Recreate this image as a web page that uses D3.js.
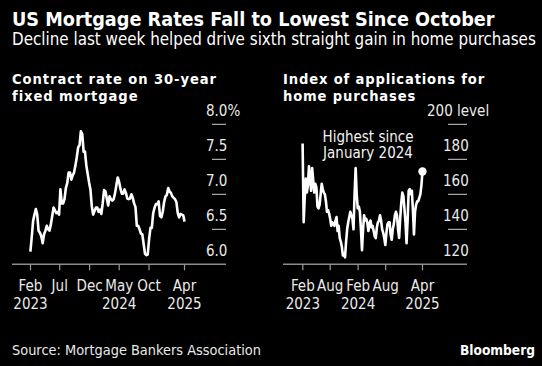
<!DOCTYPE html>
<html>
<head>
<meta charset="utf-8">
<script src="https://cdn.jsdelivr.net/npm/d3@7"></script>
<style>
  html, body { margin: 0; padding: 0; background: #000; }
  svg { display: block; }
  text { font-family: 'DejaVu Sans Condensed', 'DejaVu Sans', sans-serif; font-stretch: condensed; }
</style>
</head>
<body>
<script>
// ---------- DATA ----------
const titleText = "US Mortgage Rates Fall to Lowest Since October";
const subtitleText = "Decline last week helped drive sixth straight gain in home purchases";
const leftTitle = ["Contract rate on 30-year", "fixed mortgage"];
const rightTitle = ["Index of applications for", "home purchases"];
const sourceText = "Source: Mortgage Bankers Association";
const firstWeek = "2023-02-03"; // weekly observations start

// MBA 30-year fixed contract rate, %, weekly
const rateValues = [
  6.18, 6.39, 6.62, 6.71,
  6.79, 6.71, 6.48, 6.45, 6.40,
  6.30, 6.43, 6.48, 6.55,
  6.50, 6.48, 6.57, 6.69,
  6.81, 6.77, 6.73, 6.75, 6.71,
  7.07, 6.87, 6.87, 6.93,
  7.09, 7.16, 7.31, 7.31,
  7.21, 7.27, 7.31, 7.41, 7.53,
  7.67, 7.70, 7.90, 7.86,
  7.61, 7.61, 7.41, 7.29,
  7.17, 7.07, 6.83, 6.71, 6.76,
  6.81, 6.81, 6.75, 6.78,
  6.72, 6.87, 7.06, 7.04,
  6.94, 6.84, 6.97, 6.93, 6.91,
  6.93, 7.01, 7.13, 7.24,
  7.18, 7.08, 7.01, 7.01, 7.07,
  7.02, 6.94, 6.93, 6.94,
  7.00, 6.95, 6.87, 6.82,
  6.55, 6.55, 6.50, 6.44, 6.43,
  6.29, 6.15, 6.13, 6.14,
  6.36, 6.52, 6.52, 6.73,
  6.81, 6.86, 6.86, 6.90, 6.69,
  6.67, 6.75, 6.89, 6.97,
  6.99, 7.09, 7.04, 7.02, 6.97,
  6.95, 6.93, 6.89, 6.73,
  6.67, 6.72, 6.71, 6.70,
  6.61
];

// MBA purchase index, weekly
const purchaseValues = [
  189, 144, 158, 169, 161, 165, 176, 170, 162, 175,
  168, 161, 166, 164, 153, 152, 154, 160, 166, 163,
  161, 160, 156, 150, 151, 149, 146, 142, 144, 143,
  142, 145, 147, 139, 142, 135, 133, 130, 125, 126,
  124, 133, 140, 144, 147, 150, 148, 146, 140, 160,
  175, 160, 152, 153, 150, 140, 128, 140, 148, 145,
  146, 144, 139, 143, 145, 141, 142, 139, 136, 135,
  141, 144, 145, 148, 145, 140, 138, 135, 131, 138,
  143, 144, 144, 137, 134, 140, 143, 148, 150, 148,
  140, 135, 146, 155, 161, 159, 152, 144, 132, 145,
  162, 163, 160, 162, 151, 137, 150, 154, 156, 156,
  158, 160, 165, 173
];

const rateTicks = [6.0, 6.5, 7.0, 7.5, 8.0];
const rateTickLabels = ["6.0", "6.5", "7.0", "7.5", "8.0%"];
const purchaseTicks = [120, 140, 160, 180, 200];
const purchaseTickLabels = ["120", "140", "160", "180", "200 level"];

const leftXTicks = ["2023-02-01", "2023-07-01", "2023-12-01", "2024-05-01", "2024-10-01", "2025-04-01"];
const leftXYears = ["2023", "", "", "2024", "", "2025"];
const rightXTicks = ["2023-02-01", "2023-08-01", "2024-02-01", "2024-08-01", "2025-04-01"];
const rightXYears = ["2023", "", "2024", "", "2025"];

const annotationLines = ["Highest since", "January 2024"];

// ---------- SETUP ----------
const W = 542, H = 366;
const parse = d3.timeParse("%Y-%m-%d");
const fmtMonth = d3.timeFormat("%b");
const start = parse(firstWeek);
const dates = rateValues.map((_, i) => d3.timeDay.offset(start, 7 * i));

const svg = d3.select("body").append("svg")
  .attr("width", W).attr("height", H)
  .style("background", "#000");

svg.append("rect").attr("width", W).attr("height", H).attr("fill", "#000");

function fit(sel, target) {
  const node = sel.node();
  const fs = parseFloat(sel.attr("font-size"));
  const len = node.getComputedTextLength();
  if (len > 0) sel.attr("font-size", (fs * target / len).toFixed(2));
  return sel;
}
function spreadTo(sel, target) {
  const len = sel.node().getComputedTextLength();
  const n = sel.text().length;
  if (len > 0 && n > 1) sel.attr("letter-spacing", ((target - len) / n).toFixed(3));
  return sel;
}

// Titles
fit(svg.append("text").attr("x", 12).attr("y", 26).attr("fill", "#fff")
  .attr("font-size", 19).attr("font-weight", "bold").text(titleText), 483);
fit(svg.append("text").attr("x", 12).attr("y", 45).attr("fill", "#fff")
  .attr("font-size", 16).text(subtitleText), 524);

// Footer
fit(svg.append("text").attr("x", 12).attr("y", 355).attr("fill", "#e8e8e8")
  .attr("font-size", 15).text(sourceText), 249);
fit(svg.append("text").attr("x", 535).attr("y", 355).attr("fill", "#fff")
  .attr("text-anchor", "end").attr("font-size", 15).attr("font-weight", "bold")
  .text("Bloomberg"), 75);

const dateDomain = [parse("2023-02-01"), parse("2025-04-01")];

function panel(opts) {
  const g = svg.append("g");
  // panel title
  let ls = 0;
  opts.title.forEach((t, i) => {
    const s = g.append("text").attr("x", opts.left).attr("y", 84 + 17 * i)
      .attr("fill", "#fff").attr("font-size", 14.6).attr("font-weight", "bold").text(t);
    if (i === 0) { spreadTo(s, opts.titleWidth); ls = s.attr("letter-spacing"); }
    else s.attr("letter-spacing", ls);
  });

  const x = d3.scaleTime().domain(dateDomain).range(opts.xRange);
  const y = d3.scaleLinear().domain([opts.yTicks[0], opts.yTicks[opts.yTicks.length - 1]])
    .range([264.3, 124.3]);

  // short gridlines (skip the bottom one, which is the axis)
  g.selectAll("line.grid").data(opts.yTicks.slice(1)).join("line")
    .attr("class", "grid")
    .attr("x1", opts.grid[0]).attr("x2", opts.grid[1])
    .attr("y1", d => y(d)).attr("y2", d => y(d))
    .attr("stroke", "#d0d0d0").attr("stroke-width", 1);

  // y labels above gridlines
  g.selectAll("text.ylab").data(opts.yTicks).join("text")
    .attr("class", "ylab")
    .attr("x", (d, i) => (i === opts.yTicks.length - 1 && opts.topLabelX) ? opts.topLabelX : opts.labelX)
    .attr("y", d => y(d) - 8)
    .attr("fill", "#eaeaea").attr("font-size", 15)
    .text((d, i) => opts.yLabels[i]);

  // axis baseline
  g.append("line")
    .attr("x1", opts.axisX[0]).attr("x2", opts.axisX[1])
    .attr("y1", y(opts.yTicks[0])).attr("y2", y(opts.yTicks[0]))
    .attr("stroke", "#8a8a8a").attr("stroke-width", 1.5);

  // x axis
  const tickDates = opts.xTicks.map(parse);
  const ax = g.append("g").attr("transform", `translate(0,${y(opts.yTicks[0])})`)
    .call(d3.axisBottom(x).tickValues(tickDates).tickFormat(fmtMonth).tickSize(6).tickPadding(10));
  ax.select(".domain").remove();
  ax.selectAll(".tick line").attr("stroke", "#9a9a9a").attr("stroke-width", 1.2);
  ax.selectAll(".tick text").attr("fill", "#eaeaea").attr("font-size", 15);
  ax.selectAll(".tick").append("text")
    .attr("fill", "#eaeaea").attr("font-size", 15).attr("text-anchor", "middle")
    .attr("y", 45)
    .text((d, i) => opts.years[i]);
  ax.attr("font-family", null);

  // line
  const line = d3.line().x((d, i) => x(dates[i])).y(d => y(d)).curve(d3.curveLinear);
  g.append("path").datum(opts.values)
    .attr("d", line).attr("fill", "none").attr("stroke", "#fff")
    .attr("stroke-width", 2.6).attr("stroke-linejoin", "round");

  return { g, x, y };
}

panel({
  title: leftTitle, left: 12, titleWidth: 205,
  xRange: [30, 184], yTicks: rateTicks, yLabels: rateTickLabels,
  grid: [212, 226], labelX: 206, axisX: [12, 226],
  xTicks: leftXTicks, years: leftXYears, values: rateValues
});

const R = panel({
  title: rightTitle, left: 283, titleWidth: 202,
  xRange: [302.3, 422], yTicks: purchaseTicks, yLabels: purchaseTickLabels,
  grid: [448, 467], labelX: 443, topLabelX: 427, axisX: [283, 467],
  xTicks: rightXTicks, years: rightXYears, values: purchaseValues
});

// end dot
const lastI = purchaseValues.length - 1;
R.g.append("circle")
  .attr("cx", R.x(dates[lastI])).attr("cy", R.y(purchaseValues[lastI]))
  .attr("r", 4.2).attr("fill", "#fff");

// annotation
annotationLines.forEach((t, i) => {
  R.g.append("text").attr("x", 368).attr("y", 141.5 + 16.7 * i)
    .attr("text-anchor", "middle").attr("fill", "#f2f2f2").attr("font-size", 15)
    .text(t);
});
</script>
</body>
</html>
